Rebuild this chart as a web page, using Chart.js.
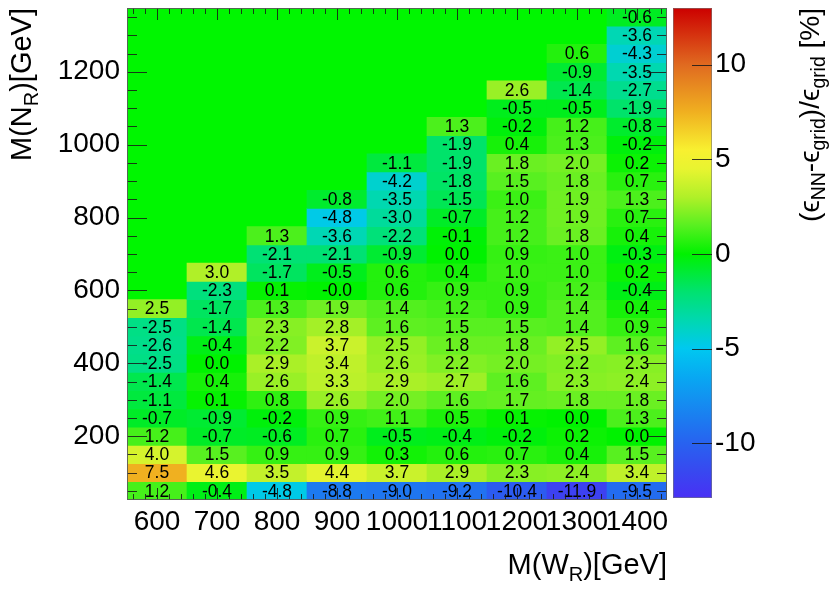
<!DOCTYPE html>
<html><head><meta charset="utf-8">
<script src="https://cdn.jsdelivr.net/npm/chart.js@4.4.1/dist/chart.umd.min.js"></script>
<style>html,body{margin:0;padding:0;background:#fff}#wrap{width:834px;height:592px}</style>
</head><body><div id="wrap"><canvas id="c" width="834" height="592"></canvas></div>
<script>
// W_R mass bins (x) and N_R mass rows (y): row i of every column is M(N_R) = 50 + 50*i
const massWR = [600, 700, 800, 900, 1000, 1100, 1200, 1300, 1400];
const massNRFirst = 50;
const massNRStep = 50;

// (eps_NN - eps_grid)/eps_grid [%], listed from the lowest M(N_R) row upward
const v600  = [1.2, 7.5, 4.0, 1.2, -0.7, -1.1, -1.4, -2.5, -2.6, -2.5, 2.5];
const v700  = [-0.4, 4.6, 1.5, -0.7, -0.9, 0.1, 0.4, 0.0, -0.4, -1.4, -1.7, -2.3, 3.0];
const v800  = [-4.8, 3.5, 0.9, -0.6, -0.2, 0.8, 2.6, 2.9, 2.2, 2.3, 1.3, 0.1, -1.7, -2.1, 1.3];
const v900  = [-8.8, 4.4, 0.9, 0.7, 0.9, 2.6, 3.3, 3.4, 3.7, 2.8, 1.9, -0.0, -0.5, -2.1, -3.6, -4.8, -0.8];
const v1000 = [-9.0, 3.7, 0.3, -0.5, 1.1, 2.0, 2.9, 2.6, 2.5, 1.6, 1.4, 0.6, 0.6, -0.9, -2.2, -3.0, -3.5, -4.2, -1.1];
const v1100 = [-9.2, 2.9, 0.6, -0.4, 0.5, 1.6, 2.7, 2.2, 1.8, 1.5, 1.2, 0.9, 0.4, 0.0, -0.1, -0.7, -1.5, -1.8, -1.9, -1.9, 1.3];
const v1200 = [-10.4, 2.3, 0.7, -0.2, 0.1, 1.7, 1.6, 2.0, 1.8, 1.5, 0.9, 0.9, 1.0, 0.9, 1.2, 1.2, 1.0, 1.5, 1.8, 0.4, -0.2, -0.5, 2.6];
const v1300 = [-11.9, 2.4, 0.4, 0.2, 0.0, 1.8, 2.3, 2.2, 2.5, 1.4, 1.4, 1.2, 1.0, 1.0, 1.8, 1.9, 1.9, 1.8, 2.0, 1.3, 1.2, -0.5, -1.4, -0.9, 0.6];
const v1400 = [-9.5, 3.4, 1.5, 0.0, 1.3, 1.8, 2.4, 2.3, 1.6, 0.9, 0.4, -0.4, 0.2, -0.3, 0.4, 0.7, 1.3, 0.7, 0.2, -0.2, -0.8, -1.9, -2.7, -3.5, -4.3, -3.6, -0.6];

// axis ticks
const xTicks = [600, 700, 800, 900, 1000, 1100, 1200, 1300, 1400];
const yTicks = [200, 400, 600, 800, 1000, 1200];
const zTicks = [-10, -5, 0, 5, 10];
const xRange = [550, 1450];
const yRange = [25, 1375];
const zRange = [-13, 13];

// colour palette stops (value -> colour)
const palValues = [-13, -11.5, -10, -8.5, -6.5, -5, -3.5, -2, 0, 1.5, 3, 4.5, 5.5, 7.5, 10, 13];
const palColors = ['#4a2ef5', '#3848f0', '#2862f0', '#1a80f0', '#08a8f2', '#00c8f0', '#00d8b0', '#00e270',
                   '#00f200', '#58f020', '#b0f028', '#e8f430', '#f8f030', '#f0b020', '#e06a20', '#cc0000'];

function hexRgb(h) { return [parseInt(h.substr(1,2),16), parseInt(h.substr(3,2),16), parseInt(h.substr(5,2),16)]; }
function zColor(v) {
  if (v <= palValues[0]) return palColors[0];
  if (v >= palValues[palValues.length-1]) return palColors[palColors.length-1];
  for (let i = 0; i < palValues.length-1; i++) {
    if (v >= palValues[i] && v <= palValues[i+1]) {
      const t = (v - palValues[i]) / (palValues[i+1] - palValues[i]);
      const a = hexRgb(palColors[i]), b = hexRgb(palColors[i+1]);
      return 'rgb(' + a.map((c,k) => Math.round(c + (b[k]-c)*t)).join(',') + ')';
    }
  }
}
function fmt(v) {
  if (v < 0 || Object.is(v, -0)) return '-' + Math.abs(v).toFixed(1);
  return v.toFixed(1);
}

const columns = [v600, v700, v800, v900, v1000, v1100, v1200, v1300, v1400];
const cells = [];
massWR.forEach((mw, c) => {
  columns[c].forEach((val, r) => {
    const mn = massNRFirst + massNRStep * r;
    cells.push({ x: mw, y: [mn - massNRStep/2, mn + massNRStep/2], v: val });
  });
});

const FONT = '"Liberation Sans", Arial, Helvetica, sans-serif';

const bgPlugin = {
  id: 'bg',
  beforeDatasetsDraw(chart) {
    const { ctx, chartArea: a } = chart;
    ctx.save();
    ctx.fillStyle = '#00f600';
    ctx.fillRect(a.left, a.top, a.right - a.left, a.bottom - a.top);
    ctx.restore();
  }
};

const cellTextPlugin = {
  id: 'cellText',
  afterDatasetsDraw(chart) {
    const ctx = chart.ctx;
    const meta = chart.getDatasetMeta(0);
    ctx.save();
    ctx.font = '17.5px ' + FONT;
    ctx.fillStyle = '#000';
    ctx.textAlign = 'center';
    ctx.textBaseline = 'middle';
    meta.data.forEach((el, i) => {
      const p = el.getProps(['x', 'y', 'base'], true);
      ctx.fillText(fmt(cells[i].v), p.x, (p.y + p.base) / 2 + 1);
    });
    ctx.restore();
  }
};

function richWidth(ctx, parts, main, sub) {
  let w = 0;
  parts.forEach(p => { ctx.font = (p.s ? sub : main) + 'px ' + FONT; w += ctx.measureText(p.t).width; });
  return w;
}
function drawRich(ctx, parts, main, sub, subDrop, startX) {
  let x = startX;
  parts.forEach(p => {
    ctx.font = (p.s ? sub : main) + 'px ' + FONT;
    ctx.fillText(p.t, x, p.s ? subDrop : 0);
    x += ctx.measureText(p.t).width;
  });
}

const frameTickPlugin = {
  id: 'frameTicks',
  afterDraw(chart) {
    const { ctx, chartArea: a } = chart;
    const xs = chart.scales.x, ys = chart.scales.y, zs = chart.scales.z;
    ctx.save();
    // colour bar
    const barL = zs.left + 6, barR = zs.left + 45;
    const zTop = zs.getPixelForValue(zRange[1]), zBot = zs.getPixelForValue(zRange[0]) - 2;
    const g = ctx.createLinearGradient(0, zs.getPixelForValue(zRange[0]), 0, zs.getPixelForValue(zRange[1]));
    palValues.forEach((v, i) => g.addColorStop((v - zRange[0]) / (zRange[1] - zRange[0]), palColors[i]));
    ctx.fillStyle = g;
    ctx.fillRect(barL, zTop, barR - barL, zBot - zTop);
    ctx.strokeStyle = 'rgba(120,120,120,0.6)';
    ctx.lineWidth = 1;
    ctx.strokeRect(barL + 0.5, zTop + 0.5, barR - barL - 1, zBot - zTop - 1);

    ctx.strokeStyle = 'rgba(25,25,25,0.85)';
    ctx.beginPath();
    zTicks.forEach(v => {
      const py = Math.round(zs.getPixelForValue(v)) + 0.5;
      ctx.moveTo(barR, py); ctx.lineTo(barR - 20, py);
    });
    // x ticks (major every 100, minor every 20)
    for (let v = xRange[0] + 10; v < xRange[1]; v += 20) {
      const px = Math.round(xs.getPixelForValue(v)) + 0.5;
      const L = (v % 100 === 0) ? 12 : 6;
      ctx.moveTo(px, a.bottom); ctx.lineTo(px, a.bottom - L);
      ctx.moveTo(px, a.top); ctx.lineTo(px, a.top + L);
    }
    // y ticks (major every 200, minor every 50)
    for (let v = 50; v < yRange[1]; v += 50) {
      const py = Math.round(ys.getPixelForValue(v)) + 0.5;
      const L = (v % 200 === 0) ? 20 : 10;
      ctx.moveTo(a.left, py); ctx.lineTo(a.left + L, py);
      ctx.moveTo(a.right, py); ctx.lineTo(a.right - L, py);
    }
    ctx.stroke();
    // frame
    ctx.strokeStyle = 'rgba(90,90,90,0.9)';
    ctx.strokeRect(a.left + 0.5, a.top + 0.5, a.right - a.left - 1, a.bottom - a.top - 1);

    // axis titles
    ctx.fillStyle = '#000';
    ctx.textBaseline = 'alphabetic';
    const xt = [{t:'M(W'}, {t:'R', s:1}, {t:')[GeV]'}];
    const wx = richWidth(ctx, xt, 29, 20);
    ctx.save(); ctx.translate(a.right, 574);
    drawRich(ctx, xt, 29, 20, 7, -wx); ctx.restore();

    const yt = [{t:'M(N'}, {t:'R', s:1}, {t:')[GeV]'}];
    const wy = richWidth(ctx, yt, 29, 20);
    ctx.save(); ctx.translate(31, a.top); ctx.rotate(-Math.PI/2);
    drawRich(ctx, yt, 29, 20, 7, -wy); ctx.restore();

    const e = '\u03f5';
    const zt = [{t:'('+e}, {t:'NN', s:1}, {t:'-'+e}, {t:'grid', s:1}, {t:')/'+e}, {t:'grid', s:1}, {t:' [%]'}];
    let m = 29, sb = 20;
    const wz0 = richWidth(ctx, zt, m, sb);
    const k = 214 / wz0; m *= k; sb *= k;
    const wz = richWidth(ctx, zt, m, sb);
    ctx.save(); ctx.translate(819, a.top); ctx.rotate(-Math.PI/2);
    drawRich(ctx, zt, m, sb, 6, -wz); ctx.restore();
    ctx.restore();
  }
};

const plainLabel = v => String(v);

new Chart(document.getElementById('c'), {
  type: 'bar',
  data: {
    datasets: [{
      data: cells,
      backgroundColor: ctx => zColor(ctx.raw ? ctx.raw.v : 0),
      borderWidth: 0,
      barPercentage: 1,
      categoryPercentage: 1,
      grouped: false
    }]
  },
  options: {
    responsive: false,
    devicePixelRatio: 1,
    animation: false,
    layout: { padding: { left: 0, right: 0, top: 8, bottom: 0 } },
    plugins: { legend: { display: false }, tooltip: { enabled: false } },
    scales: {
      x: {
        type: 'linear', offset: false, min: xRange[0], max: xRange[1],
        grid: { display: false, drawTicks: false }, border: { display: false },
        afterBuildTicks: s => { s.ticks = xTicks.map(v => ({ value: v })); },
        afterFit: s => { s.height = 92; s.paddingLeft = 0; s.paddingRight = 0; },
        ticks: { autoSkip: false, maxRotation: 0, minRotation: 0, padding: 5, color: '#000',
                 callback: plainLabel, font: { size: 28, family: FONT } }
      },
      y: {
        type: 'linear', min: yRange[0], max: yRange[1],
        grid: { display: false, drawTicks: false }, border: { display: false },
        afterBuildTicks: s => { s.ticks = yTicks.map(v => ({ value: v })); },
        afterFit: s => { s.width = 127; s.paddingTop = 0; s.paddingBottom = 0; },
        ticks: { autoSkip: false, padding: 7, color: '#000', callback: plainLabel,
                 font: { size: 28, family: FONT } }
      },
      z: {
        type: 'linear', position: 'right', min: zRange[0], max: zRange[1],
        grid: { display: false, drawTicks: true, tickLength: 44 }, border: { display: false },
        afterBuildTicks: s => { s.ticks = zTicks.map(v => ({ value: v })); },
        afterFit: s => { s.width = 167; s.paddingTop = 0; s.paddingBottom = 0; },
        ticks: { autoSkip: false, padding: 4, color: '#000', callback: plainLabel,
                 font: { size: 28, family: FONT } }
      }
    }
  },
  plugins: [bgPlugin, cellTextPlugin, frameTickPlugin]
});
</script></body></html>
